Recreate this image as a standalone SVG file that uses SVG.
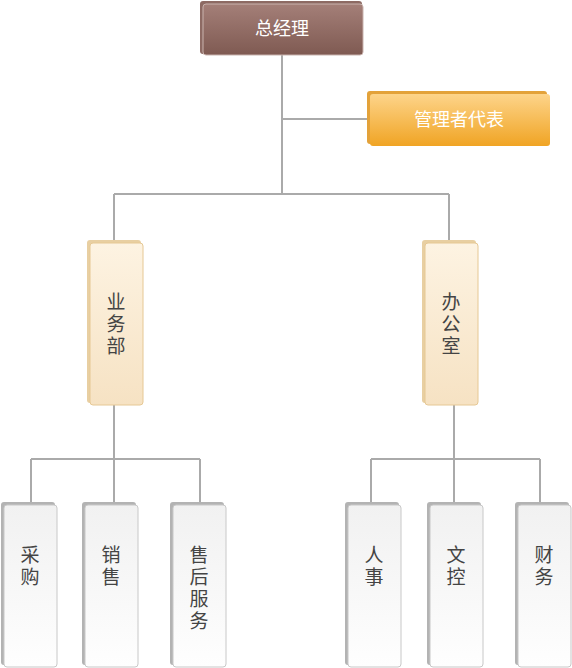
<svg xmlns="http://www.w3.org/2000/svg" width="572" height="668" viewBox="0 0 572 668">
<defs>
<linearGradient id="gBrown" x1="0" y1="0" x2="0" y2="1"><stop offset="0" stop-color="#a47f78"/><stop offset="1" stop-color="#7f5a52"/></linearGradient>
<linearGradient id="gOrange" x1="0" y1="0" x2="0" y2="1"><stop offset="0" stop-color="#fdd48a"/><stop offset="1" stop-color="#f0a424"/></linearGradient>
<linearGradient id="gCream" x1="0" y1="0" x2="0" y2="1"><stop offset="0" stop-color="#fdf3e2"/><stop offset="1" stop-color="#f6e2c3"/></linearGradient>
<linearGradient id="gGray" x1="0" y1="0" x2="0" y2="1"><stop offset="0" stop-color="#f1f1f1"/><stop offset="1" stop-color="#fefefe"/></linearGradient>
<style>
.ln{fill:none;stroke:#aaaaaa;stroke-width:2}
.t{font-family:"Noto Sans CJK SC","Noto Sans",sans-serif;text-anchor:middle}
.w{fill:#ffffff;font-size:18px}
.d{fill:#444444;font-size:19px;writing-mode:vertical-rl;letter-spacing:3px}
</style>
</defs>
<g id="connectors">
<path class="ln" d="M282 55V194M282 119H368M114 194H449M114 194V242M449 194V242M114 405V459M31 459H200M31 459V504M114 459V504M200 459V504M454 405V459M371 459H540M371 459V504M454 459V504M540 459V504"/>
</g>
<g id="n-gm">
<rect x="200" y="1" width="162" height="53" rx="3" fill="#8d6a63"/>
<rect x="203" y="4" width="160" height="51" rx="3" fill="url(#gBrown)" stroke="#c9b3ae" stroke-width="1"/>
<text class="t w" x="282" y="35">总经理</text>
</g>
<g id="n-rep">
<rect x="367" y="91" width="180" height="53" rx="3" fill="#e3a23a"/>
<rect x="370" y="94" width="180" height="52" rx="3" fill="url(#gOrange)"/>
<text class="t w" x="459" y="126">管理者代表</text>
</g>
<g id="n-biz">
<rect x="87" y="240" width="54" height="163" rx="3" fill="#e8cfa2"/>
<rect x="90" y="243" width="53" height="162" rx="3" fill="url(#gCream)" stroke="#e6c894" stroke-width="1"/>
<text class="t d" x="116" y="325">业务部</text>
</g>
<g id="n-office">
<rect x="422" y="240" width="54" height="163" rx="3" fill="#e8cfa2"/>
<rect x="425" y="243" width="53" height="162" rx="3" fill="url(#gCream)" stroke="#e6c894" stroke-width="1"/>
<text class="t d" x="451" y="325">办公室</text>
</g>
<g id="n-buy">
<rect x="1" y="502" width="54" height="163" rx="3" fill="#b3b3b3"/>
<rect x="4" y="505" width="53" height="162" rx="3" fill="url(#gGray)" stroke="#c8c8c8" stroke-width="1"/>
<text class="t d" x="30" y="567">采购</text>
</g>
<g id="n-sales">
<rect x="82" y="502" width="54" height="163" rx="3" fill="#b3b3b3"/>
<rect x="85" y="505" width="53" height="162" rx="3" fill="url(#gGray)" stroke="#c8c8c8" stroke-width="1"/>
<text class="t d" x="111" y="567">销售</text>
</g>
<g id="n-after">
<rect x="170" y="502" width="54" height="163" rx="3" fill="#b3b3b3"/>
<rect x="173" y="505" width="53" height="162" rx="3" fill="url(#gGray)" stroke="#c8c8c8" stroke-width="1"/>
<text class="t d" x="199" y="589">售后服务</text>
</g>
<g id="n-hr">
<rect x="345" y="502" width="54" height="163" rx="3" fill="#b3b3b3"/>
<rect x="348" y="505" width="53" height="162" rx="3" fill="url(#gGray)" stroke="#c8c8c8" stroke-width="1"/>
<text class="t d" x="374" y="567">人事</text>
</g>
<g id="n-doc">
<rect x="427" y="502" width="54" height="163" rx="3" fill="#b3b3b3"/>
<rect x="430" y="505" width="53" height="162" rx="3" fill="url(#gGray)" stroke="#c8c8c8" stroke-width="1"/>
<text class="t d" x="456" y="567">文控</text>
</g>
<g id="n-fin">
<rect x="515" y="502" width="54" height="163" rx="3" fill="#b3b3b3"/>
<rect x="518" y="505" width="53" height="162" rx="3" fill="url(#gGray)" stroke="#c8c8c8" stroke-width="1"/>
<text class="t d" x="544" y="567">财务</text>
</g>
</svg>
